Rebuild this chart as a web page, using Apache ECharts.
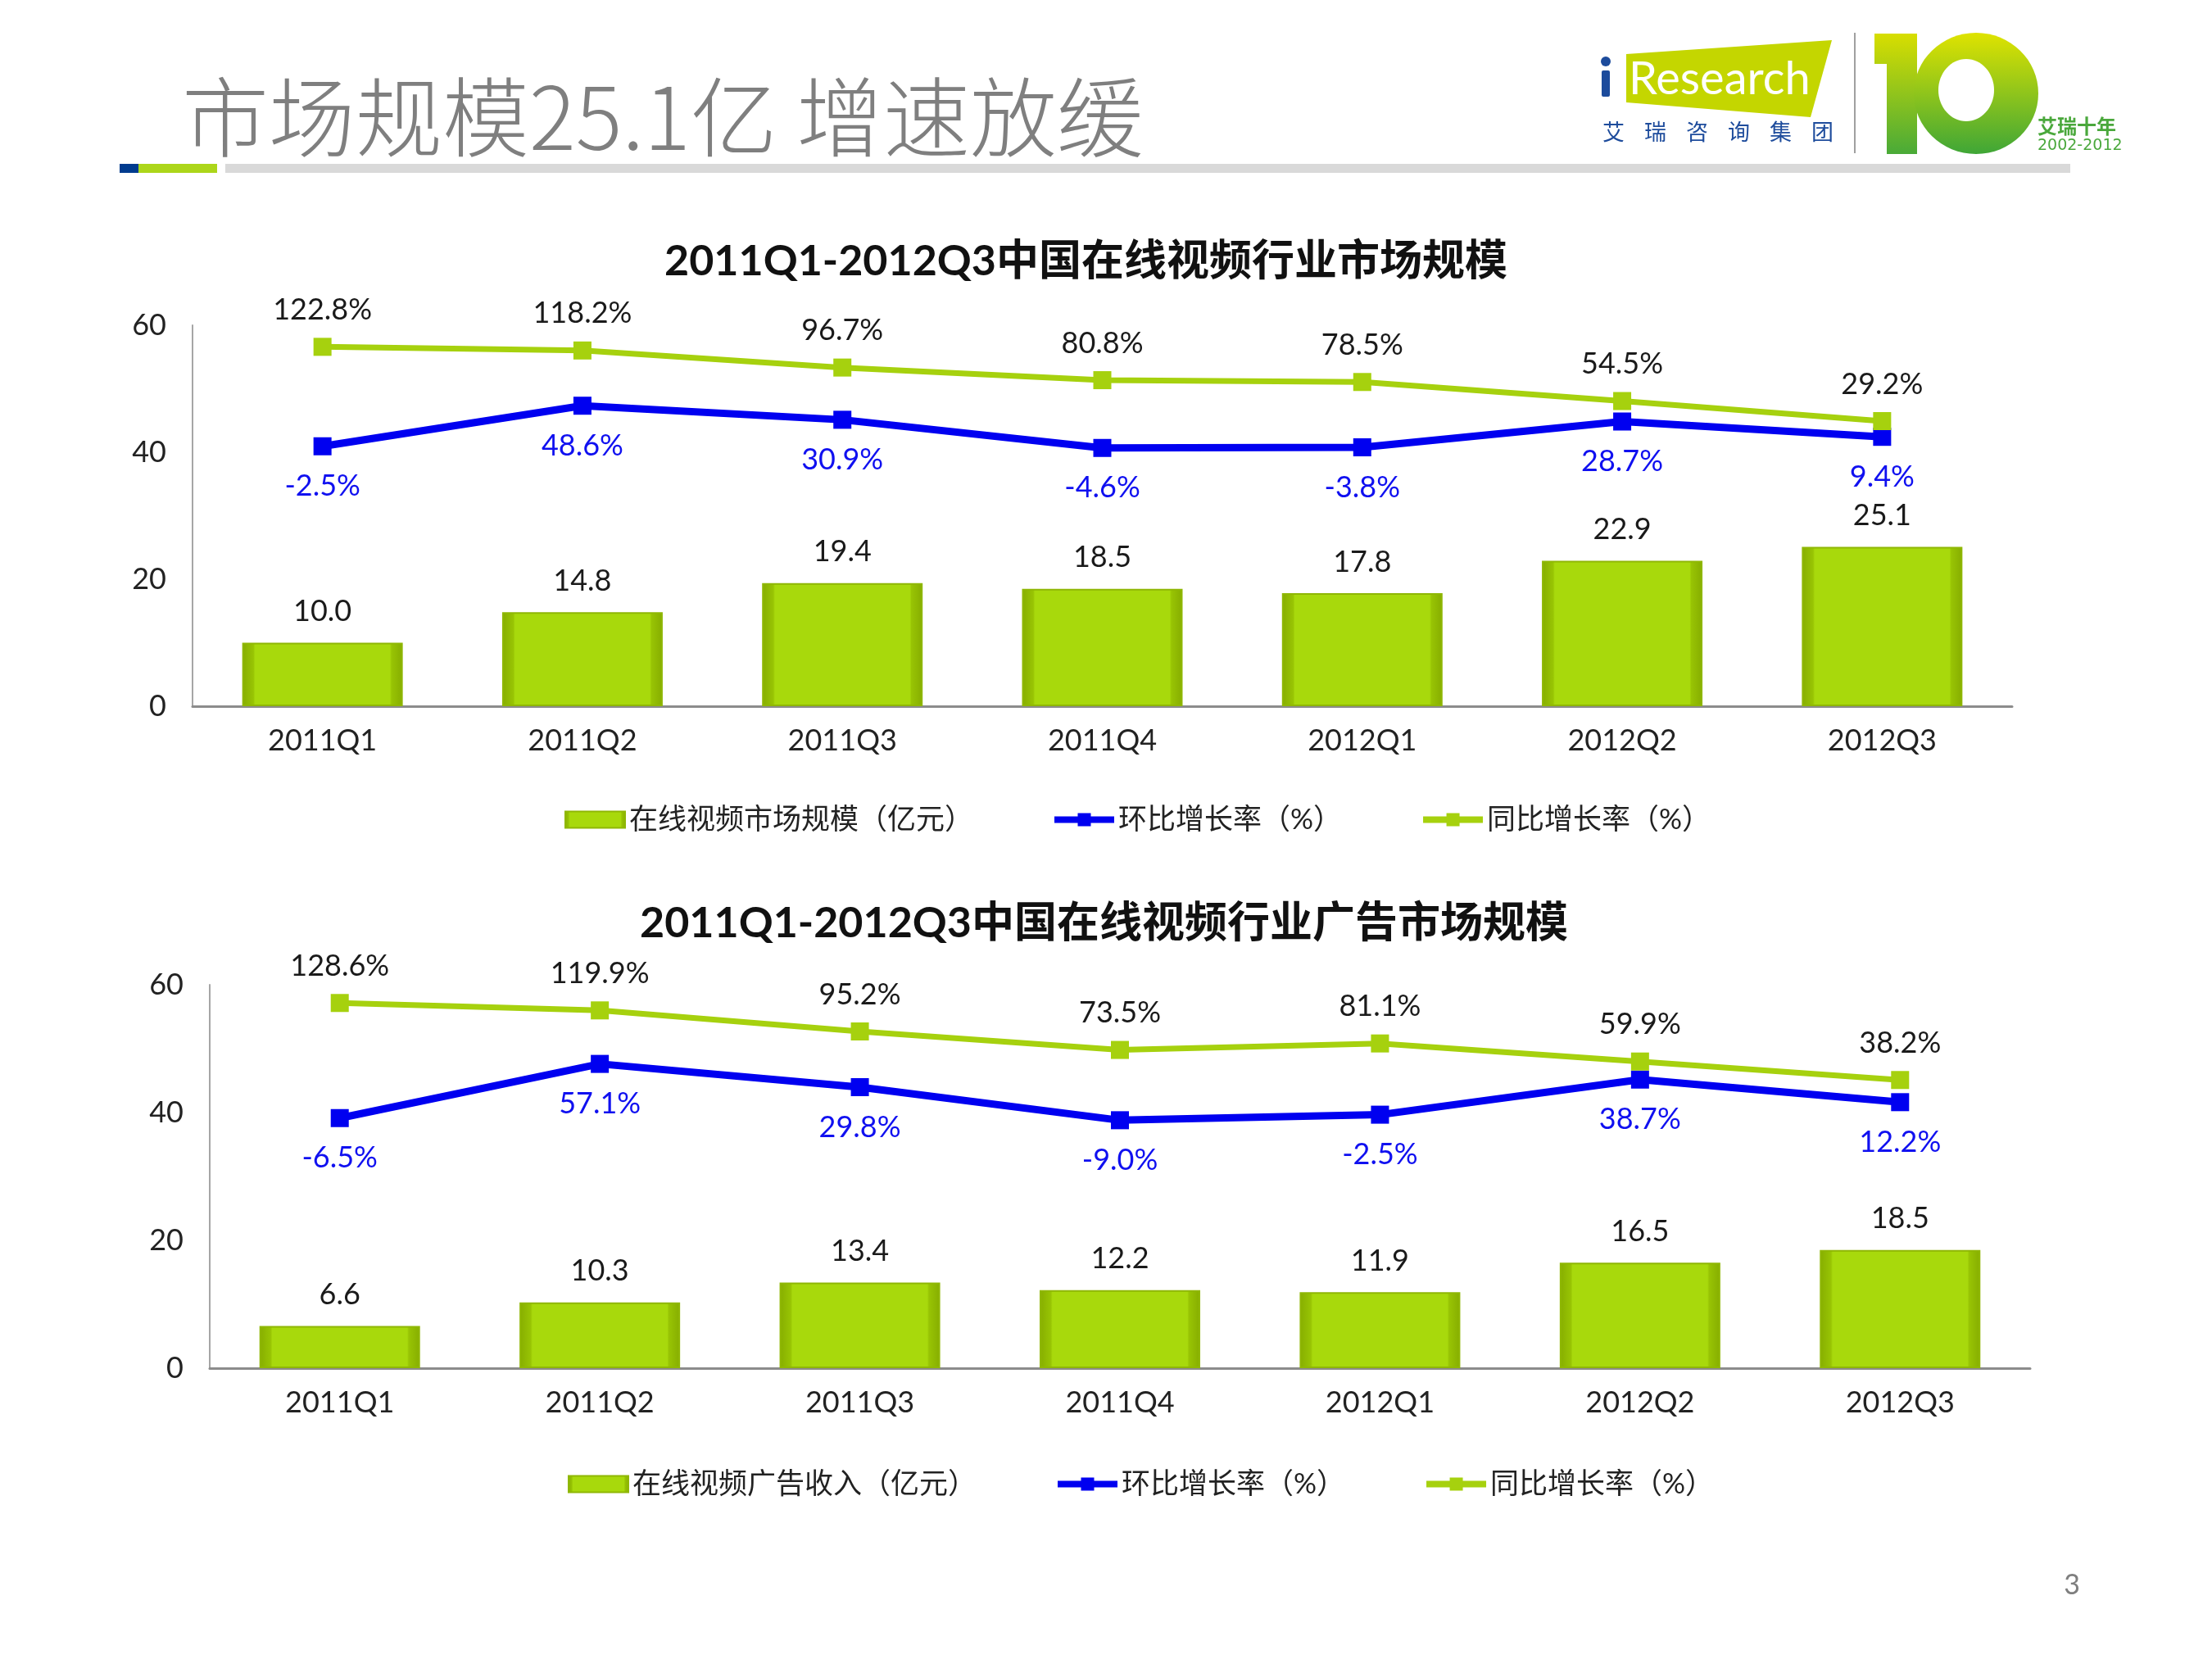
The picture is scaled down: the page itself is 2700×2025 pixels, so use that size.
<!DOCTYPE html>
<html>
<head>
<meta charset="utf-8">
<script src="https://cdn.jsdelivr.net/npm/echarts@6/dist/echarts.min.js"></script>
<style>
html,body{margin:0;padding:0;background:#fff}
#main{width:2700px;height:2025px}
</style>
</head>
<body>
<div id="main"></div>
<script>
// 季度
var quarters = ['2011Q1', '2011Q2', '2011Q3', '2011Q4', '2012Q1', '2012Q2', '2012Q3'];
// 市场规模
var marketSize = [10.0, 14.8, 19.4, 18.5, 17.8, 22.9, 25.1];
var marketQoq = [-2.5, 48.6, 30.9, -4.6, -3.8, 28.7, 9.4];
var marketYoy = [122.8, 118.2, 96.7, 80.8, 78.5, 54.5, 29.2];
// 广告市场
var adSize = [6.6, 10.3, 13.4, 12.2, 11.9, 16.5, 18.5];
var adQoq = [-6.5, 57.1, 29.8, -9.0, -2.5, 38.7, 12.2];
var adYoy = [128.6, 119.9, 95.2, 73.5, 81.1, 59.9, 38.2];
var leftTicks = [0, 20, 40, 60];

var FONT = "Lato, 'Noto Sans CJK SC', sans-serif";
var GREEN = '#a6d10e';
var BLUE = '#0000f0';

var barColor = {
    type: 'linear', x: 0, y: 0, x2: 1, y2: 0,
    colorStops: [
        {offset: 0, color: '#86ad00'},
        {offset: 0.07, color: '#98c404'},
        {offset: 0.08, color: '#a8d90c'},
        {offset: 0.92, color: '#a8d90c'},
        {offset: 0.93, color: '#98c404'},
        {offset: 1, color: '#86ad00'}
    ]
};

function barSeries(name, data, idx) {
    return {
        name: name, type: 'bar', xAxisIndex: idx, yAxisIndex: idx * 2,
        data: data, barWidth: 196,
        itemStyle: {color: barColor, borderColor: '#8fb705', borderWidth: 2},
        label: {show: true, position: 'top', distance: 20, fontSize: 36, fontFamily: FONT, color: '#1a1a1a',
            formatter: function (p) { return p.value.toFixed(1); }}
    };
}
function lineSeries(name, data, idx, color, pos) {
    return {
        name: name, type: 'line', xAxisIndex: idx, yAxisIndex: idx * 2 + 1,
        data: data, symbol: 'rect', symbolSize: 22, z: 5,
        lineStyle: {color: color, width: color === BLUE ? 9 : 7},
        itemStyle: {color: color},
        label: {show: true, position: pos, distance: color === BLUE ? 20 : 16, fontSize: 36, fontFamily: FONT,
            color: color === BLUE ? '#1010f0' : '#1a1a1a',
            formatter: function (p) { return p.value.toFixed(1) + '%'; }}
    };
}

function xAxis(idx) {
    return {
        type: 'category', gridIndex: idx, data: quarters,
        axisLine: {lineStyle: {color: '#8c8c8c', width: 3}},
        axisTick: {show: false},
        axisLabel: {fontSize: 36, fontFamily: FONT, color: '#222', margin: 24}
    };
}
function yLeft(idx) {
    return {
        type: 'value', gridIndex: idx, min: leftTicks[0], max: leftTicks[leftTicks.length - 1], interval: 20,
        axisLine: {show: true, lineStyle: {color: '#a6a6a6', width: 2}},
        axisTick: {show: false}, splitLine: {show: false},
        axisLabel: {fontSize: 36, fontFamily: FONT, color: '#222', margin: 32}
    };
}
function yRight(idx, min, max) {
    return {type: 'value', gridIndex: idx, min: min, max: max, show: false, splitLine: {show: false}};
}
function legend(top, left, barName) {
    return {
        left: left, top: top, itemWidth: 73, itemHeight: 20, itemGap: 95,
        lineStyle: {width: 8},
        textStyle: {fontSize: 35, fontFamily: FONT, color: '#222'},
        data: [{name: barName, icon: 'rect'}, '环比增长率（%）', '同比增长率（%）']
    };
}

var graphics = [
    {type: 'text', left: 222, top: 90, style: {text: '市场规模25.1亿 增速放缓', fontSize: 106, fontWeight: 300,
        fontFamily: "'Noto Sans CJK SC', sans-serif", fill: '#7f7f7f'}},
    {type: 'rect', shape: {x: 146, y: 200, width: 23, height: 11}, style: {fill: '#003b8e'}},
    {type: 'rect', shape: {x: 169, y: 200, width: 96, height: 11}, style: {fill: '#acd61a'}},
    {type: 'rect', shape: {x: 275, y: 200, width: 2252, height: 11}, style: {fill: '#d9d9d9'}},
    // logo
    {type: 'polygon', shape: {points: [[1985, 66], [2236, 49], [2210, 143], [1985, 125]]}, style: {fill: '#c4d600'}},
    {type: 'circle', shape: {cx: 1960, cy: 75, r: 6}, style: {fill: '#1c4b9c'}},
    {type: 'rect', shape: {x: 1955, y: 86, width: 10, height: 32, r: 2}, style: {fill: '#1c4b9c'}},
    {type: 'text', x: 1988, y: 97, style: {text: 'Research', fontSize: 56, fontFamily: "Lato, sans-serif",
        fill: '#fff', textVerticalAlign: 'middle'}},
    {type: 'line', shape: {x1: 2264, y1: 40, x2: 2264, y2: 187}, style: {stroke: '#a0a0a0', lineWidth: 2}},
    {type: 'polygon', shape: {points: [[2288, 41], [2340, 41], [2340, 188], [2303, 188], [2303, 78], [2288, 78]]},
        style: {fill: {type: 'linear', x: 0, y: 0, x2: 0, y2: 1, colorStops: [{offset: 0, color: '#d8de00'}, {offset: 1, color: '#49aa38'}]}}},
    {type: 'ellipse', shape: {cx: 2412, cy: 114, rx: 76, ry: 74},
        style: {fill: {type: 'linear', x: 0, y: 0, x2: 0, y2: 1, colorStops: [{offset: 0, color: '#dfe300'}, {offset: 1, color: '#3fa637'}]}}},
    {type: 'ellipse', shape: {cx: 2400, cy: 110, rx: 34, ry: 38}, style: {fill: '#fff'}},
    {type: 'text', x: 2487, y: 154, style: {text: '艾瑞十年', fontSize: 24, fontWeight: 'bold',
        fontFamily: "'Noto Sans CJK SC', sans-serif", fill: '#4aa83c', textVerticalAlign: 'middle'}},
    {type: 'text', x: 2487, y: 178, style: {text: '2002-2012', fontSize: 19,
        fontFamily: "'DejaVu Sans', sans-serif", fill: '#4aa83c', textVerticalAlign: 'middle'}},
    {type: 'text', x: 2529, y: 1935, style: {text: '3', fontSize: 34, fontFamily: FONT, fill: '#7f7f7f',
        textAlign: 'center', textVerticalAlign: 'middle'}}
];
'艾瑞咨询集团'.split('').forEach(function (ch, i) {
    graphics.push({type: 'text', x: 1956 + i * 51, y: 161, style: {text: ch, fontSize: 27,
        fontFamily: "'Noto Sans CJK SC', sans-serif", fill: '#1e4c9c', textVerticalAlign: 'middle'}});
});

var chart = echarts.init(document.getElementById('main'));
chart.setOption({
    backgroundColor: '#fff',
    animation: false,
    title: [
        {text: '2011Q1-2012Q3中国在线视频行业市场规模', left: 806, top: 288,
            textStyle: {fontSize: 52, fontWeight: 'bold', fontFamily: FONT, color: '#111'}},
        {text: '2011Q1-2012Q3中国在线视频行业广告市场规模', left: 776, top: 1096,
            textStyle: {fontSize: 52, fontWeight: 'bold', fontFamily: FONT, color: '#111'}}
    ],
    legend: [
        legend(978, 684, '在线视频市场规模（亿元）'),
        legend(1789, 688, '在线视频广告收入（亿元）')
    ],
    grid: [
        {left: 235, right: 244, top: 397, height: 465},
        {left: 256, right: 222, top: 1202, height: 468}
    ],
    xAxis: [xAxis(0), xAxis(1)],
    yAxis: [yLeft(0), yRight(0, -330, 150), yLeft(1), yRight(1, -300, 150)],
    series: [
        barSeries('在线视频市场规模（亿元）', marketSize, 0),
        lineSeries('环比增长率（%）', marketQoq, 0, BLUE, 'bottom'),
        lineSeries('同比增长率（%）', marketYoy, 0, GREEN, 'top'),
        barSeries('在线视频广告收入（亿元）', adSize, 1),
        lineSeries('环比增长率（%）', adQoq, 1, BLUE, 'bottom'),
        lineSeries('同比增长率（%）', adYoy, 1, GREEN, 'top')
    ],
    graphic: graphics
});
</script>
</body>
</html>
